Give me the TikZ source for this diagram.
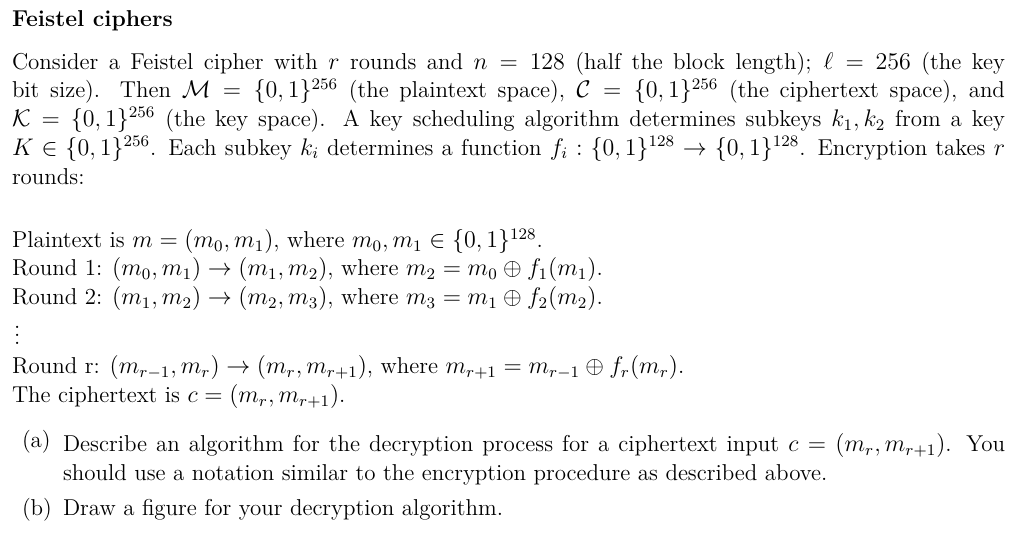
\documentclass[tikz,border=0pt]{standalone}
\usepackage{amsmath,amssymb}
\begin{document}
\begin{tikzpicture}[x=0.5pt,y=-0.5pt,every node/.style={inner sep=0pt,outer sep=0pt},
 txt/.style={anchor=base west,font=\fontsize{11.48}{14.35}\selectfont}]
\useasboundingbox (0,0) rectangle (1024,539);
\node[txt,font=\fontsize{11.48}{14.35}\selectfont\bfseries] (title) at (12,27) {Feistel ciphers};
\node[txt,anchor=north west,text width=496.5pt,align=justify] (para) at (12,52) {Consider a Feistel cipher with $r$ rounds and $n=128$ (half the block length); $\ell=256$ (the key\linebreak bit size). Then $\mathcal{M}=\{0,1\}^{256}$ (the plaintext space), $\mathcal{C}=\{0,1\}^{256}$ (the ciphertext space), and\linebreak $\mathcal{K}=\{0,1\}^{256}$ (the key space). A key scheduling algorithm determines subkeys $k_1,k_2$ from a key\linebreak $K\in\{0,1\}^{256}$. Each subkey $k_i$ determines a function $f_i:\{0,1\}^{128}\to\{0,1\}^{128}$. Encryption takes $r$\linebreak rounds:};
\node[txt] (l1) at (12,248) {Plaintext is $m=(m_0,m_1)$, where $m_0,m_1\in\{0,1\}^{128}$.};
\node[txt] (l2) at (12,276) {Round 1: $(m_0,m_1)\to(m_1,m_2)$, where $m_2=m_0\oplus f_1(m_1)$.};
\node[txt] (l3) at (12,305) {Round 2: $(m_1,m_2)\to(m_2,m_3)$, where $m_3=m_1\oplus f_2(m_2)$.};
\node[txt] (dots) at (14,345) {$\vdots$};
\node[txt] (l4) at (12,374) {Round r: $(m_{r-1},m_r)\to(m_r,m_{r+1})$, where $m_{r+1}=m_{r-1}\oplus f_r(m_r)$.};
\node[txt] (l5) at (12,403) {The ciphertext is $c=(m_r,m_{r+1})$.};
\node[txt] (a) at (22,448) {(a)};
\node[txt,anchor=north west,text width=471pt,align=justify] (atext) at (63,434) {Describe an algorithm for the decryption process for a ciphertext input $c=(m_r,m_{r+1})$. You should use a notation similar to the encryption procedure as described above.};
\node[txt] (b) at (22,516) {(b)};
\node[txt] (btext) at (63,516) {Draw a figure for your decryption algorithm.};
\end{tikzpicture}
\end{document}
